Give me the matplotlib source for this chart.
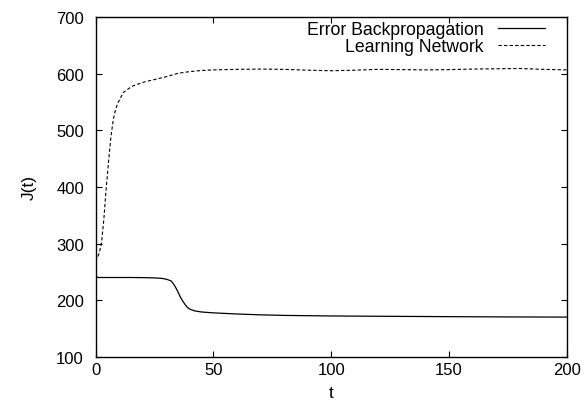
import matplotlib
matplotlib.use("Agg")
import matplotlib.pyplot as plt

plt.rcParams['font.family'] = ['Liberation Sans', 'DejaVu Sans']

# Error Backpropagation (solid)
t_bp = [0, 0.5, 1, 5, 10, 15, 20, 25, 28, 30, 32, 33, 34, 35, 36, 37, 38, 39, 40,
        42, 45, 50, 55, 60, 70, 80, 100, 120, 150, 175, 200]
j_bp = [245, 241, 240, 240, 240, 240, 239.8, 239.3, 238.5, 237, 234, 229, 222, 214,
        205, 198, 192, 187, 184, 181, 179, 177.5, 176.5, 175.5, 174, 173, 172,
        171.5, 170.8, 170.3, 170]

# Learning Network (dashed)
t_ln = [0, 0.5, 1.5, 2.5, 3.5, 4.5, 5.5, 6.5, 7.5, 8.5, 9.6, 11.7, 14, 16, 20, 25, 30,
        35, 40, 45, 50, 60, 70, 80, 90, 100, 110, 120, 130, 140, 150, 160, 170,
        180, 190, 200]
j_ln = [278, 273, 283, 302, 345, 400, 447, 490, 520, 538, 550, 567, 574, 579, 585,
        590, 595, 601, 604, 606, 607, 608, 608.5, 608, 606.5, 605.5, 606.5, 608,
        607.5, 607, 607.5, 608.5, 609, 609.5, 608, 607]

x_ticks = [0, 50, 100, 150, 200]
y_ticks = [100, 200, 300, 400, 500, 600, 700]

fig = plt.figure(figsize=(5.86, 4.10), dpi=100)
ax = fig.add_axes([95.7 / 586, 1 - 357.7 / 410, (566.7 - 95.7) / 586, (357.7 - 18.3) / 410])

ax.plot(t_bp, j_bp, color='black', lw=0.9, label='Error Backpropagation')
ax.plot(t_ln, j_ln, color='black', lw=0.8, linestyle=(0, (3, 2)), label='Learning Network')

ax.set_xlim(0, 200)
ax.set_ylim(100, 700)
ax.set_xticks(x_ticks)
ax.set_yticks(y_ticks)
ax.tick_params(direction='in', top=True, right=True, labelsize=12, length=4, width=0.8)
ax.tick_params(axis='x', pad=3.5)
ax.tick_params(axis='y', pad=8.5)
for s in ax.spines.values():
    s.set_linewidth(1.0)

ax.set_xlabel('t', fontsize=12.5, labelpad=6)
ax.set_ylabel('J(t)', fontsize=12.5)
ax.yaxis.set_label_coords(-0.125, 0.5)

leg = ax.legend(loc='upper right', bbox_to_anchor=(0.954, 0.988), frameon=False,
                markerfirst=False, fontsize=12.7, handlelength=2.67, handletextpad=0.83,
                labelspacing=0.0, borderaxespad=0, borderpad=0)

fig.savefig('out.png', dpi=100)
